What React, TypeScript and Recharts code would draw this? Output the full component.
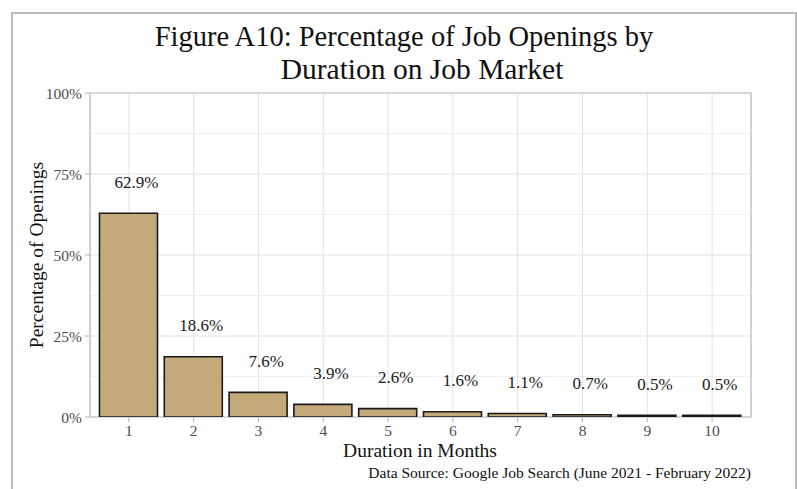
import React from "react"
import {
  BarChart,
  Bar,
  XAxis,
  YAxis,
  CartesianGrid,
  ReferenceArea,
  LabelList,
} from "recharts"

const months = [1, 2, 3, 4, 5, 6, 7, 8, 9, 10]
const shares = [62.9, 18.6, 7.6, 3.9, 2.6, 1.6, 1.1, 0.7, 0.5, 0.5]
const yTicks = [0, 25, 50, 75, 100]
const yMinor = [12.5, 37.5, 62.5, 87.5]

const data = months.map((m, i) => ({ month: m, share: shares[i] }))

const serif = "'Liberation Serif', 'Times New Roman', serif"

// labels sit a little right of the bar centre, like the original
const BarLabel = (props: any) => {
  const { x, y, width, value } = props
  return (
    <text
      x={x + width / 2 + 8}
      y={y - 31}
      textAnchor="middle"
      dominantBaseline="central"
      fontFamily={serif}
      fontSize={17}
      fill="#1a1a1a"
    >
      {value.toFixed(1)}%
    </text>
  )
}

export default function App() {
  return (
    <div
      style={{
        position: "absolute",
        left: 0,
        top: 0,
        width: 797,
        height: 489,
        overflow: "hidden",
        background: "#fff",
        fontFamily: serif,
      }}
    >
      <div
        style={{
          position: "absolute",
          left: 11,
          top: 12,
          width: 782,
          height: 520,
          border: "2px solid #bbbbbb",
          borderBottom: "none",
        }}
      />
      <div
        style={{
          position: "absolute",
          left: 404 - 300,
          width: 600,
          top: 21,
          textAlign: "center",
          fontSize: 28.5,
          lineHeight: "32px",
          color: "#111",
          whiteSpace: "nowrap",
        }}
      >
        Figure A10: Percentage of Job Openings by
      </div>
      <div
        style={{
          position: "absolute",
          left: 422 - 300,
          width: 600,
          top: 53,
          textAlign: "center",
          fontSize: 29.5,
          lineHeight: "32px",
          color: "#111",
          whiteSpace: "nowrap",
        }}
      >
        Duration on Job Market
      </div>
      <BarChart
        width={797}
        height={489}
        data={data}
        margin={{ top: 93, right: 46, bottom: 42, left: 40 }}
        style={{ position: "absolute", left: 0, top: 0 }}
      >
        <CartesianGrid
          stroke="#f1f1f1"
          strokeWidth={1}
          vertical={false}
          horizontalValues={yMinor}
        />
        <CartesianGrid stroke="#e3e3e3" strokeWidth={1} />
        <XAxis
          dataKey="month"
          type="number"
          domain={[0.4, 10.6]}
          ticks={months}
          interval={0}
          axisLine={false}
          tickSize={5}
          tickMargin={3}
          tickLine={{ stroke: "#b3b3b3" }}
          tick={{ fontFamily: serif, fontSize: 15.5, fill: "#4d4d4d" }}
          height={30}
        />
        <YAxis
          type="number"
          domain={[0, 100]}
          ticks={yTicks}
          allowDataOverflow
          axisLine={false}
          tickSize={5}
          tickMargin={3}
          tickLine={{ stroke: "#b3b3b3" }}
          tickFormatter={(v: number) => `${v}%`}
          tick={{ fontFamily: serif, fontSize: 15.5, fill: "#4d4d4d" }}
          width={50}
        />
        <Bar
          dataKey="share"
          fill="#c4a97b"
          stroke="#1a1a1a"
          strokeWidth={1.6}
          barSize={58}
          isAnimationActive={false}
        >
          <LabelList dataKey="share" content={BarLabel} />
        </Bar>
        <ReferenceArea
          x1={0.4}
          x2={10.6}
          y1={0}
          y2={100}
          fill="none"
          stroke="#bdbdbd"
          strokeWidth={1.2}
          ifOverflow="visible"
        />
      </BarChart>
      <div
        style={{
          position: "absolute",
          left: 270,
          width: 300,
          top: 440,
          textAlign: "center",
          fontSize: 19.5,
          lineHeight: "22px",
          color: "#111",
        }}
      >
        Duration in Months
      </div>
      <div
        style={{
          position: "absolute",
          left: 37 - 150,
          width: 300,
          top: 255 - 11,
          textAlign: "center",
          fontSize: 19.5,
          lineHeight: "22px",
          color: "#111",
          transform: "rotate(-90deg)",
        }}
      >
        Percentage of Openings
      </div>
      <div
        style={{
          position: "absolute",
          right: 797 - 751,
          top: 464,
          fontSize: 15.5,
          lineHeight: "18px",
          color: "#111",
          whiteSpace: "nowrap",
        }}
      >
        Data Source: Google Job Search (June 2021 - February 2022)
      </div>
    </div>
  )
}
